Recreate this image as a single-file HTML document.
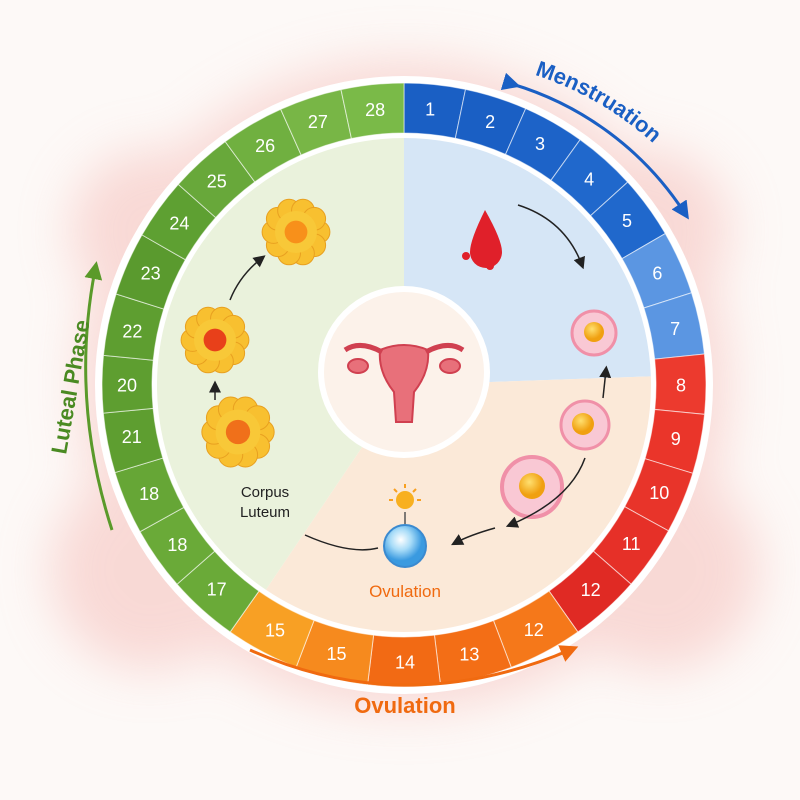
<!DOCTYPE html>
<html><head><meta charset="utf-8"><style>
html,body{margin:0;padding:0;background:#fdf9f7;}
svg{display:block;font-family:"Liberation Sans",sans-serif;}
</style></head><body>
<svg id="s" width="800" height="800" viewBox="0 0 800 800" xmlns="http://www.w3.org/2000/svg">
<defs>
<filter id="blur" x="-50%" y="-50%" width="200%" height="200%"><feGaussianBlur stdDeviation="25"/></filter>
<radialGradient id="egg" cx="40%" cy="35%"><stop offset="0" stop-color="#ffe070"/><stop offset="1" stop-color="#f0a010"/></radialGradient>
<radialGradient id="bub" cx="40%" cy="35%"><stop offset="0" stop-color="#ffffff"/><stop offset="0.5" stop-color="#a8dcf8"/><stop offset="1" stop-color="#3a9ae0"/></radialGradient>
<marker id="ah" markerWidth="8" markerHeight="8" refX="5" refY="4" orient="auto"><path d="M0,0 L8,4 L0,8 z" fill="#222"/></marker>
<marker id="ahb" markerWidth="6" markerHeight="6" refX="3" refY="3" orient="auto"><path d="M0,0 L6,3 L0,6 z" fill="#1a5fc4"/></marker>
<marker id="ahg" markerWidth="6" markerHeight="6" refX="3" refY="3" orient="auto"><path d="M0,0 L6,3 L0,6 z" fill="#5a9a2a"/></marker>
<marker id="aho" markerWidth="6" markerHeight="6" refX="3" refY="3" orient="auto"><path d="M0,0 L6,3 L0,6 z" fill="#f06a10"/></marker>
</defs>
<rect width="800" height="800" fill="#fdf9f7"/>
<g filter="url(#blur)" fill="#f6c4c0" opacity="0.6">
<circle cx="404" cy="385" r="325"/>
<circle cx="150" cy="570" r="100"/>
<circle cx="660" cy="570" r="100"/>
<circle cx="150" cy="230" r="80"/>
<circle cx="650" cy="230" r="80"/>
</g>
<circle cx="404" cy="385" r="309" fill="#fff"/>
<g id="segs"></g>
<circle cx="404" cy="385" r="251" fill="#fff"/>
<g id="inner"></g>
<circle cx="404" cy="372" r="86" fill="#fff"/>
<circle cx="404" cy="372" r="80" fill="#fcf2ea"/>
<g fill="#e8707a" stroke="#d04050" stroke-width="2">
<path d="M380,350 Q404,340 428,350 Q430,372 414,392 L412,422 L396,422 L394,392 Q378,372 380,350z"/>
<path d="M382,352 Q360,340 345,350" fill="none" stroke-width="5"/>
<path d="M426,352 Q448,340 463,350" fill="none" stroke-width="5"/>
<ellipse cx="358" cy="366" rx="10" ry="7"/><ellipse cx="450" cy="366" rx="10" ry="7"/>
</g>
<path d="M485,210 Q470,240 470,252 A16,16 0 0 0 502,252 Q502,240 485,210z" fill="#e0202a"/>
<circle cx="466" cy="256" r="4" fill="#e0202a"/><circle cx="490" cy="266" r="4" fill="#e0202a"/>
<path d="M518,205 Q565,220 582,265" fill="none" stroke="#222" stroke-width="1.5" marker-end="url(#ah)"/>
<circle cx="594" cy="333" r="22" fill="#f9c8d4" stroke="#f090a8" stroke-width="3"/><circle cx="594" cy="332" r="10" fill="url(#egg)"/>
<circle cx="585" cy="425" r="24" fill="#f9c8d4" stroke="#f090a8" stroke-width="3"/><circle cx="583" cy="424" r="11" fill="url(#egg)"/>
<circle cx="532" cy="487" r="30" fill="#f9c8d4" stroke="#f090a8" stroke-width="4"/><circle cx="532" cy="486" r="13" fill="url(#egg)"/>
<path d="M603,398 L606,370" fill="none" stroke="#222" stroke-width="1.5" marker-end="url(#ah)"/>
<path d="M585,458 Q570,500 510,525" fill="none" stroke="#222" stroke-width="1.5" marker-end="url(#ah)"/>
<path d="M495,528 Q470,535 455,543" fill="none" stroke="#222" stroke-width="1.5" marker-end="url(#ah)"/>
<circle cx="405" cy="546" r="21" fill="url(#bub)" stroke="#3a8ad0" stroke-width="2"/>
<circle cx="405" cy="500" r="9" fill="#f8b020"/>
<g stroke="#f8a020" stroke-width="2"><line x1="405" y1="484" x2="405" y2="488"/><line x1="389" y1="500" x2="393" y2="500"/><line x1="417" y1="500" x2="421" y2="500"/><line x1="394" y1="489" x2="397" y2="492"/><line x1="416" y1="489" x2="413" y2="492"/></g>
<line x1="405" y1="512" x2="405" y2="524" stroke="#555" stroke-width="1.5"/>
<path d="M305,535 Q350,555 378,548" fill="none" stroke="#222" stroke-width="1.5"/>
<text x="405" y="597" font-size="17" fill="#f06a10" text-anchor="middle">Ovulation</text>
<g id="cl"></g>
<path d="M215,400 L215,385" stroke="#222" stroke-width="1.5" marker-end="url(#ah)"/>
<path d="M230,300 Q240,275 262,258" fill="none" stroke="#222" stroke-width="1.5" marker-end="url(#ah)"/>
<text x="265" y="497" font-size="15" fill="#222" text-anchor="middle">Corpus</text>
<text x="265" y="517" font-size="15" fill="#222" text-anchor="middle">Luteum</text>
<path id="mpath" d="M525,72 A325,325 0 0 1 700,196" fill="none"/>
<path d="M512,84 A312,312 0 0 1 684,212" fill="none" stroke="#1a5fc4" stroke-width="3" marker-start="url(#ahb)" marker-end="url(#ahb)"/>
<text font-size="22" font-weight="bold" fill="#1a5fc4"><textPath href="#mpath" startOffset="10">Menstruation</textPath></text>
<path d="M112,530 Q70,400 95,270" fill="none" stroke="#5a9a2a" stroke-width="3" marker-end="url(#ahg)"/>
<text x="0" y="0" font-size="22" font-weight="bold" fill="#4a8a22" transform="translate(66,455) rotate(-80)">Luteal Phase</text>
<path d="M250,650 Q405,720 570,650" fill="none" stroke="#f06a10" stroke-width="3" marker-end="url(#aho)"/>
<text x="405" y="713" font-size="22" font-weight="bold" fill="#f06a10" text-anchor="middle">Ovulation</text>
</svg>
<script>
var NS="http://www.w3.org/2000/svg",cx=404,cy=385;
var L=[["1",430,110,"#1a5fc4"],["2",490,122,"#1a5fc4"],["3",541,142,"#1d63c8"],["4",590,178,"#2068cc"],["5",628,220,"#2068cc"],["6",660,272,"#5b96e2"],["7",668,330,"#5b96e2"],
["8",676,385,"#ec3a2e"],["9",668,437,"#ea352a"],["10",653,490,"#e8342a"],["11",622,537,"#e63028"],["12",580,578,"#e02a24"],
["12",527,617,"#f5781a"],["13",465,636,"#f36e16"],["14",405,644,"#f26a14"],["15",341,636,"#f68a1e"],["15",282,617,"#f8a024"],
["17",225,580,"#6aaa38"],["18",182,541,"#6aaa38"],["18",150,493,"#66a636"],["21",128,437,"#5e9e30"],["20",128,385,"#5e9e30"],["22",128,330,"#5e9e30"],["23",148,272,"#5a9a2e"],["24",178,222,"#5ea032"],["25",216,180,"#68a83a"],["26",265,145,"#70b040"],["27",318,122,"#78b646"],["28",375,108,"#7aba48"]];
function ang(x,y){var a=Math.atan2(x-cx,-(y-cy))*180/Math.PI;return a<0?a+360:a;}
var A=L.map(function(l){return ang(l[1],l[2]);});
var B=[0];for(var i=0;i<A.length-1;i++){B.push((A[i]+A[i+1])/2);}B.push(360);
function pt(a,r){var t=a*Math.PI/180;return [cx+r*Math.sin(t),cy-r*Math.cos(t)];}
var g=document.getElementById("segs"),h="";
function arc(a0,a1,r0,r1){var p1=pt(a0,r1),p2=pt(a1,r1),p3=pt(a1,r0),p4=pt(a0,r0),lg=(a1-a0)>180?1:0;
return "M"+p1+" A"+r1+","+r1+" 0 "+lg+" 1 "+p2+" L"+p3+" A"+r0+","+r0+" 0 "+lg+" 0 "+p4+"Z";}
for(var i=0;i<L.length;i++){h+='<path d="'+arc(B[i],B[i+1],252,302)+'" fill="'+L[i][3]+'" stroke="rgba(255,255,255,0.6)" stroke-width="1"/>';
var p=pt(A[i],277);h+='<text x="'+p[0]+'" y="'+(p[1]+6.5)+'" font-size="18" fill="#fff" text-anchor="middle">'+L[i][0]+'</text>';}
g.innerHTML=h;
var inn="";
inn+='<path d="M'+cx+','+cy+' L'+pt(0,247)+' A247,247 0 0 1 '+pt(88,247)+' Z" fill="#d6e6f6"/>';
inn+='<path d="M'+cx+','+cy+' L'+pt(88,247)+' A247,247 0 0 1 '+pt(214,247)+' Z" fill="#fbe9d8"/>';
inn+='<path d="M'+cx+','+cy+' L'+pt(214,247)+' A247,247 0 0 1 '+pt(359.99,247)+' Z" fill="#eaf2dc"/>';
document.getElementById("inner").innerHTML=inn;
function cl(x,y,r,c){var s="";for(var k=0;k<10;k++){var t=k*36*Math.PI/180;s+='<circle cx="'+(x+r*0.75*Math.cos(t))+'" cy="'+(y+r*0.75*Math.sin(t))+'" r="'+(r*0.38)+'" fill="#f8c030" stroke="#e8a020"/>';}
s+='<circle cx="'+x+'" cy="'+y+'" r="'+(r*0.7)+'" fill="#f8c838"/><circle cx="'+x+'" cy="'+y+'" r="'+(r*0.38)+'" fill="'+c+'"/>';return s;}
document.getElementById("cl").innerHTML=cl(296,232,30,"#f8901a")+cl(215,340,30,"#e8401a")+cl(238,432,32,"#f0701a");
</script>
</body></html>
